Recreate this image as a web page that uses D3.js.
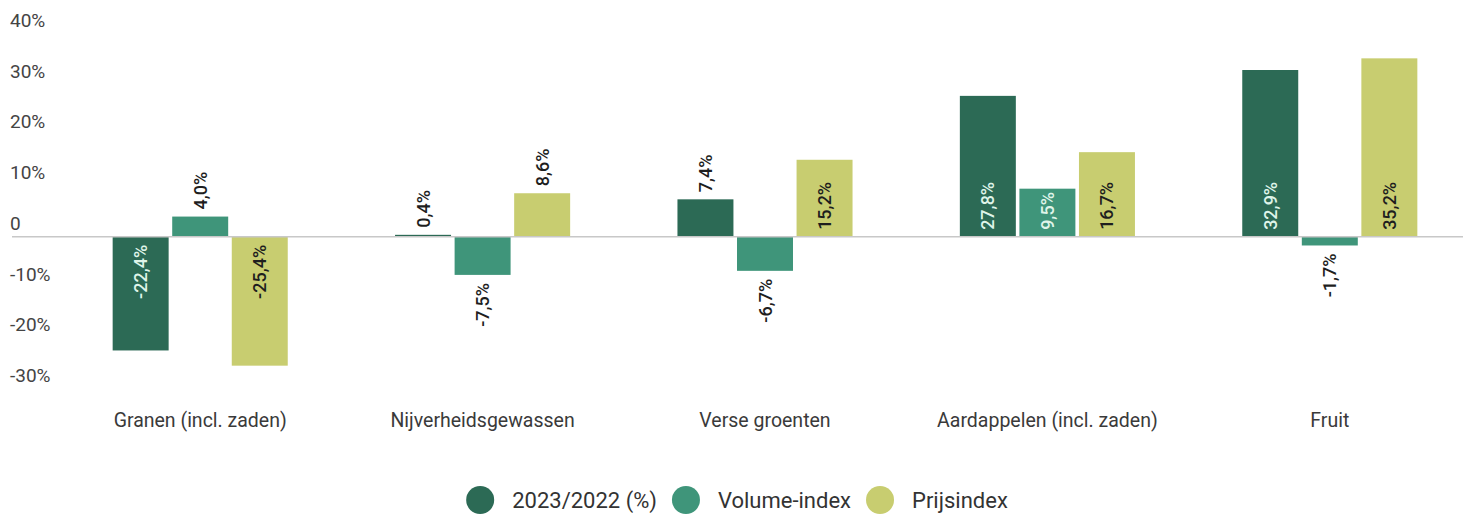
<!DOCTYPE html>
<html lang="nl">
<head>
    <meta charset="UTF-8">
    <script src="https://cdn.jsdelivr.net/npm/d3@7"></script>
    <title>Granen, gewassen, groenten, aardappelen, fruit</title>
    <style>
        body { margin: 0; background: #fff; }
        text { font-family: Roboto, 'Noto Sans', sans-serif; }
        .tick-label { font-size: 19px; fill: #444; }
        .cat-label { font-size: 19.5px; fill: #3a3a3a; text-anchor: middle; }
        .bar-label { font-size: 18px; dominant-baseline: central; font-weight: 500; }
        .legend text { font-size: 22px; fill: #333; dominant-baseline: central; }
    </style>
</head>
<body>
<script>
    const width = 1463, height = 514;

    // data
    const categories = ["Granen (incl. zaden)", "Nijverheidsgewassen", "Verse groenten",
        "Aardappelen (incl. zaden)", "Fruit"];
    const seriesNames = ["2023/2022 (%)", "Volume-index", "Prijsindex"];
    const change = [-22.4, 0.4, 7.4, 27.8, 32.9];
    const volume = [4.0, -7.5, -6.7, 9.5, -1.7];
    const price = [-25.4, 8.6, 15.2, 16.7, 35.2];
    const yTicks = [40, 30, 20, 10, 0, -10, -20, -30];

    const colors = ["#2c6a55", "#3f957a", "#c8cd70"];
    const insideText = ["#dff4e9", "#dff4e9", "#1e1e1e"];

    const seriesValues = [change, volume, price];
    const rows = [];
    categories.forEach((c, i) => {
        seriesNames.forEach((s, j) => {
            rows.push({cat: c, series: s, idx: j, value: seriesValues[j][i]});
        });
    });

    const svg = d3.select("body").append("svg")
        .attr("width", width).attr("height", height);

    const y = d3.scaleLinear().domain([-30, 40]).range([389, 34]);
    const x0 = d3.scaleBand().domain(categories).range([59, 1471])
        .paddingInner(0.38).paddingOuter(0.19);
    const x1 = d3.scaleBand().domain(seriesNames).range([0, x0.bandwidth()])
        .paddingInner(0.06);

    // y tick labels (drawn above the invisible gridlines)
    svg.append("g").selectAll("text")
        .data(yTicks)
        .join("text")
        .attr("class", "tick-label")
        .attr("x", 10)
        .attr("y", d => y(d) - 7)
        .text(d => d === 0 ? "0" : d + "%");

    // bars
    svg.append("g").selectAll("rect")
        .data(rows)
        .join("rect")
        .attr("x", d => x0(d.cat) + x1(d.series))
        .attr("width", x1.bandwidth())
        .attr("y", d => y(Math.max(0, d.value)))
        .attr("height", d => Math.abs(y(d.value) - y(0)))
        .attr("fill", d => colors[d.idx]);

    // zero line
    svg.append("line")
        .attr("x1", 12).attr("x2", width)
        .attr("y1", y(0)).attr("y2", y(0))
        .attr("stroke", "#c8c8c8").attr("stroke-width", 1.5);

    // value labels, rotated
    const fmt = v => d3.format(".1f")(v).replace("\u2212", "-").replace(".", ",") + "%";
    svg.append("g").selectAll("text")
        .data(rows)
        .join("text")
        .attr("class", "bar-label")
        .each(function(d) {
            const inside = Math.abs(d.value) >= 9;
            const cx = x0(d.cat) + x1(d.series) + x1.bandwidth() / 2;
            let py, anchor;
            if (d.value >= 0) {
                py = inside ? y(0) - 7 : y(d.value) - 7;
                anchor = "start";
            } else {
                py = inside ? y(0) + 8 : y(d.value) + 8;
                anchor = "end";
            }
            d3.select(this)
                .attr("transform", `translate(${cx},${py}) rotate(-90)`)
                .attr("text-anchor", anchor)
                .attr("fill", inside ? insideText[d.idx] : "#1e1e1e");
        })
        .text(d => fmt(d.value));

    // category labels
    svg.append("g").selectAll("text")
        .data(categories)
        .join("text")
        .attr("class", "cat-label")
        .attr("x", d => x0(d) + x0.bandwidth() / 2)
        .attr("y", 427)
        .text(d => d);

    // legend
    const legend = svg.append("g").attr("class", "legend");
    const items = legend.selectAll("g")
        .data(seriesNames)
        .join("g");
    items.append("circle")
        .attr("r", 14)
        .attr("fill", (d, i) => colors[i]);
    items.append("text")
        .attr("x", 32)
        .attr("y", 0)
        .text(d => d);

    let pos = 0;
    const offsets = [];
    items.each(function() {
        const w = d3.select(this).select("text").node().getComputedTextLength();
        offsets.push(pos);
        pos += 32 + w + 29;
    });
    const total = pos - 29 + 14;
    const startX = 737 - total / 2 + 14;
    items.attr("transform", (d, i) => `translate(${startX + offsets[i]},500)`);
</script>
</body>
</html>
